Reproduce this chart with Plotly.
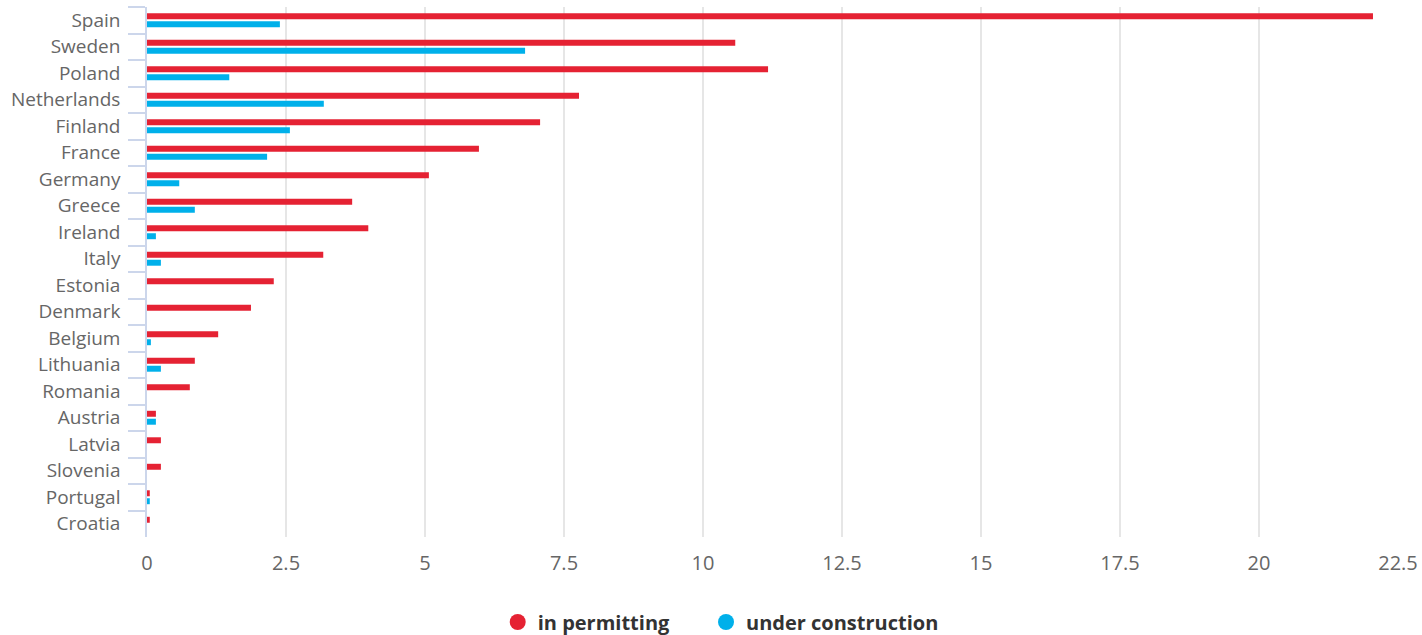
import plotly.graph_objects as go

countries = ["Spain", "Sweden", "Poland", "Netherlands", "Finland", "France", "Germany",
             "Greece", "Ireland", "Italy", "Estonia", "Denmark", "Belgium", "Lithuania",
             "Romania", "Austria", "Latvia", "Slovenia", "Portugal", "Croatia"]
in_permitting = [22.05, 10.58, 11.17, 7.77, 7.07, 5.97, 5.07, 3.69, 3.98, 3.17,
                 2.28, 1.87, 1.28, 0.86, 0.77, 0.16, 0.25, 0.25, 0.05, 0.05]
under_construction = [2.39, 6.8, 1.48, 3.18, 2.57, 2.16, 0.58, 0.86, 0.16, 0.25,
                      0, 0, 0.07, 0.25, 0, 0.16, 0, 0, 0.05, 0]
x_ticks = [0, 2.5, 5, 7.5, 10, 12.5, 15, 17.5, 20, 22.5]

RED = "#e52233"
BLUE = "#00b0ea"
FONT = "'Open Sans', sans-serif"

fig = go.Figure()
fig.add_trace(go.Bar(y=countries, x=in_permitting, orientation="h", name="in permitting",
                     marker=dict(color=RED, line=dict(width=0)), showlegend=False))
fig.add_trace(go.Bar(y=countries, x=under_construction, orientation="h", name="under construction",
                     marker=dict(color=BLUE, line=dict(width=0)), showlegend=False))
# legend entries as circles
fig.add_trace(go.Scatter(x=[None], y=[None], mode="markers", name="in permitting",
                         marker=dict(color=RED, size=16, symbol="circle"), legend="legend"))
fig.add_trace(go.Scatter(x=[None], y=[None], mode="markers", name="under construction",
                         marker=dict(color=BLUE, size=16, symbol="circle"), legend="legend2"))

leg_common = dict(orientation="h", xref="container", yref="container", xanchor="left",
                  y=0.0205, yanchor="middle", bgcolor="rgba(0,0,0,0)",
                  font=dict(family=FONT, size=20, color="#333333", weight="bold"),
                  itemsizing="trace", itemwidth=30)

fig.update_layout(
    width=1422, height=635,
    margin=dict(l=147, r=24, t=7, b=98, autoexpand=False),
    paper_bgcolor="white", plot_bgcolor="white",
    barmode="group", bargap=0.4, bargroupgap=0.25,
    font=dict(family=FONT, size=19, color="#666666"),
    legend=dict(x=0.350, **leg_common),
    legend2=dict(x=0.4965, **leg_common),
)
fig.update_xaxes(range=[0, 22.5], tickvals=x_ticks, ticktext=[f"{v:g}" for v in x_ticks],
                 showgrid=True, gridcolor="#e6e6e6", gridwidth=1.5, zeroline=False,
                 showline=False, ticks="", ticklabelstandoff=12, automargin=False,
                 tickfont=dict(color="#666666", size=20))
fig.update_yaxes(type="category", categoryorder="array", categoryarray=countries,
                 autorange="reversed", showline=True, linecolor="#ccd6eb", linewidth=1.5,
                 ticks="outside", tickson="boundaries", ticklen=17, tickcolor="#ccd6eb",
                 tickwidth=1.5, ticklabelstandoff=21, showgrid=False, automargin=False,
                 tickfont=dict(color="#666666", size=19))

fig.write_html("out.html", config={"displayModeBar": False},
               post_script="document.body.style.margin='0';document.body.style.overflow='hidden';")
